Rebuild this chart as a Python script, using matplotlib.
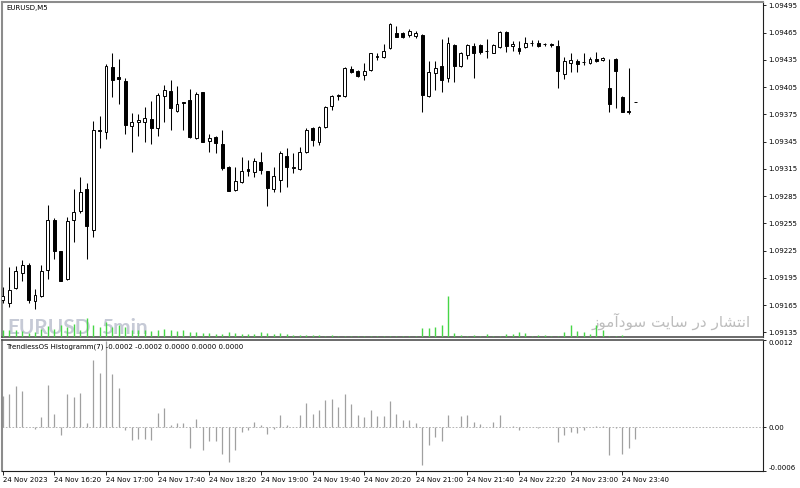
import matplotlib
matplotlib.use("Agg")
import matplotlib.pyplot as plt
import numpy as np

# EURUSD M5, 24 Nov 2023, bars from 15:40 to 23:50
opens = [1.09171, 1.09167, 1.09184, 1.09200, 1.09209, 1.09169, 1.09175, 1.09204, 1.09259, 1.09224,
         1.09194, 1.09259, 1.09268, 1.09293, 1.09248, 1.09357, 1.09355, 1.09427, 1.09416, 1.09412,
         1.09362, 1.09366, 1.09367, 1.09370, 1.09360, 1.09395, 1.09401, 1.09379, 1.09388, 1.09391,
         1.09349, 1.09399, 1.09346, 1.09350, 1.09342, 1.09317, 1.09292, 1.09300, 1.09315, 1.09311,
         1.09323, 1.09312, 1.09293, 1.09303, 1.09329, 1.09316, 1.09315, 1.09334, 1.09360, 1.09345,
         1.09361, 1.09384, 1.09395, 1.09395, 1.09425, 1.09423, 1.09418, 1.09424, 1.09438, 1.09438,
         1.09448, 1.09465, 1.09465, 1.09462, 1.09461, 1.09462, 1.09395, 1.09420, 1.09428, 1.09415,
         1.09451, 1.09428, 1.09440, 1.09450, 1.09451, 1.09445, 1.09443, 1.09449, 1.09466, 1.09450,
         1.09448, 1.09449, 1.09453, 1.09454, 1.09452, 1.09452, 1.09450, 1.09419, 1.09431, 1.09434,
         1.09432, 1.09431, 1.09436, 1.09435, 1.09404, 1.09436, 1.09394, 1.09379, 1.09388]
highs = [1.09185, 1.09207, 1.09208, 1.09215, 1.09211, 1.09183, 1.09209, 1.09275, 1.09261, 1.09225,
         1.09262, 1.09293, 1.09306, 1.09299, 1.09368, 1.09373, 1.09430, 1.09442, 1.09436, 1.09415,
         1.09376, 1.09375, 1.09383, 1.09390, 1.09398, 1.09407, 1.09413, 1.09406, 1.09389, 1.09403,
         1.09399, 1.09400, 1.09353, 1.09351, 1.09358, 1.09318, 1.09317, 1.09328, 1.09325, 1.09327,
         1.09334, 1.09313, 1.09317, 1.09335, 1.09338, 1.09332, 1.09339, 1.09360, 1.09361, 1.09362,
         1.09384, 1.09396, 1.09397, 1.09427, 1.09428, 1.09424, 1.09431, 1.09443, 1.09442, 1.09452,
         1.09475, 1.09472, 1.09466, 1.09469, 1.09467, 1.09463, 1.09434, 1.09434, 1.09458, 1.09460,
         1.09452, 1.09444, 1.09452, 1.09453, 1.09452, 1.09458, 1.09452, 1.09467, 1.09467, 1.09456,
         1.09456, 1.09460, 1.09457, 1.09457, 1.09454, 1.09454, 1.09457, 1.09438, 1.09443, 1.09436,
         1.09443, 1.09438, 1.09444, 1.09438, 1.09436, 1.09437, 1.09395, 1.09426, 1.09388]
lows = [1.09167, 1.09163, 1.09183, 1.09191, 1.09167, 1.09161, 1.09174, 1.09194, 1.09216, 1.09191,
        1.09193, 1.09234, 1.09266, 1.09216, 1.09240, 1.09338, 1.09348, 1.09394, 1.09386, 1.09353,
        1.09333, 1.09351, 1.09345, 1.09342, 1.09351, 1.09366, 1.09358, 1.09378, 1.09358, 1.09349,
        1.09348, 1.09344, 1.09333, 1.09332, 1.09314, 1.09290, 1.09291, 1.09299, 1.09307, 1.09306,
        1.09309, 1.09274, 1.09289, 1.09289, 1.09295, 1.09310, 1.09314, 1.09332, 1.09340, 1.09341,
        1.09360, 1.09380, 1.09391, 1.09394, 1.09420, 1.09416, 1.09413, 1.09423, 1.09435, 1.09437,
        1.09447, 1.09460, 1.09459, 1.09460, 1.09459, 1.09377, 1.09394, 1.09402, 1.09400, 1.09410,
        1.09410, 1.09427, 1.09436, 1.09415, 1.09441, 1.09437, 1.09442, 1.09448, 1.09444, 1.09445,
        1.09441, 1.09448, 1.09450, 1.09449, 1.09450, 1.09449, 1.09404, 1.09414, 1.09421, 1.09421,
        1.09429, 1.09430, 1.09433, 1.09434, 1.09377, 1.09382, 1.09377, 1.09375, 1.09388]
closes = [1.09175, 1.09182, 1.09202, 1.09209, 1.09171, 1.09176, 1.09202, 1.09259, 1.09224, 1.09192,
          1.09258, 1.09267, 1.09289, 1.09252, 1.09358, 1.09358, 1.09428, 1.09413, 1.09414, 1.09363,
          1.09366, 1.09369, 1.09371, 1.09360, 1.09396, 1.09402, 1.09382, 1.09386, 1.09387, 1.09350,
          1.09397, 1.09345, 1.09349, 1.09343, 1.09316, 1.09291, 1.09302, 1.09313, 1.09312, 1.09324,
          1.09314, 1.09294, 1.09307, 1.09332, 1.09317, 1.09317, 1.09333, 1.09358, 1.09347, 1.09361,
          1.09383, 1.09395, 1.09396, 1.09426, 1.09421, 1.09417, 1.09423, 1.09442, 1.09439, 1.09445,
          1.09474, 1.09460, 1.09460, 1.09467, 1.09464, 1.09396, 1.09421, 1.09426, 1.09413, 1.09453,
          1.09428, 1.09443, 1.09451, 1.09443, 1.09444, 1.09445, 1.09451, 1.09466, 1.09450, 1.09452,
          1.09445, 1.09453, 1.09453, 1.09450, 1.09452, 1.09451, 1.09423, 1.09434, 1.09435, 1.09430,
          1.09432, 1.09436, 1.09434, 1.09437, 1.09386, 1.09423, 1.09378, 1.09378, 1.09388]
# tick volumes
volumes = [40, 40, 40, 36, 24, 30, 46, 64, 46, 70, 60, 80, 44, 116, 72, 60, 90, 60, 74, 60,
           44, 44, 40, 36, 40, 50, 44, 36, 40, 30, 30, 24, 24, 20, 20, 30, 24, 16, 16, 20,
           30, 26, 20, 26, 20, 14, 14, 14, 14, 10, 6, 14, 6, 6, 6, 6, 6, 6, 6, 6,
           6, 6, 6, 8, 6, 56, 56, 60, 70, 246, 26, 10, 6, 10, 4, 16, 4, 4, 16, 16,
           32, 22, 6, 10, 10, 6, 8, 32, 70, 36, 30, 18, 74, 40, 8, 6, 10, 0, 0]
# TrendlessOS Histogramm(7)
osc = [0.000425, 0.000461, 0.000563, 0.000494, 0.00001, -0.00002, 0.000148, 0.000577, 0.000185, -0.000106,
       0.000452, 0.000415, 0.000475, 0.000055, 0.000932, 0.000748, 0.00118, 0.000738, 0.000545, -0.00004,
       -0.000175, -0.000166, -0.000166, -0.000175, 0.000194, 0.000268, 0.000037, 0.000055, 0.000055, -0.000286,
       0.000115, -0.000309, -0.000194, -0.000194, -0.000369, -0.000471, -0.000305, -0.000069, -0.000032, 0.000078,
       0.000032, -0.000092, -0.00002, 0.000175, 0.000032, 0.00001, 0.000175, 0.000337, 0.000185, 0.00024,
       0.000378, 0.000392, 0.000277, 0.000452, 0.000323, 0.000171, 0.000148, 0.000245, 0.000162, 0.000162,
       0.000355, 0.000185, 0.000106, 0.000106, 0.000055, -0.000517, -0.000245, -0.000138, -0.000185, 0.000175,
       0.00001, 0.000162, 0.000171, 0.000069, 0.000046, 0.00001, 0.000069, 0.000175, 0.00001, 0.00002,
       -0.00004, 0.00001, 0.00001, -0.00001, 0.00001, 0.00001, -0.000208, -0.000102, -0.000069, -0.000078,
       -0.00003, 0.00001, 0.00002, 0.00002, -0.000378, -0.00001, -0.000369, -0.000286, -0.00016]

price_ticks = [1.09135, 1.09165, 1.09195, 1.09225, 1.09255, 1.09285, 1.09315, 1.09345,
               1.09375, 1.09405, 1.09435, 1.09465, 1.09495]
time_ticks = [0, 8, 16, 24, 32, 40, 48, 56, 64, 72, 80, 88, 96]
time_labels = ["24 Nov 2023", "24 Nov 16:20", "24 Nov 17:00", "24 Nov 17:40", "24 Nov 18:20",
               "24 Nov 19:00", "24 Nov 19:40", "24 Nov 20:20", "24 Nov 21:00", "24 Nov 21:40",
               "24 Nov 22:20", "24 Nov 23:00", "24 Nov 23:40"]

W, H = 800, 488
fig = plt.figure(figsize=(W / 100, H / 100), dpi=100)


def rect(l, t, r, b):
    return [l / W, 1 - b / H, (r - l) / W, (b - t) / H]


x = np.arange(len(opens))
o = np.array(opens)
c = np.array(closes)
XLIM = (-0.11, 117.8)

# main price panel
ax = fig.add_axes(rect(2, 2, 763, 337))
ax.set_xlim(*XLIM)
ax.set_ylim(1.091298, 1.094986)
ax.vlines(x, lows, highs, color="black", lw=0.75, zorder=2)
ax.bar(x, np.abs(c - o), bottom=np.minimum(o, c), width=0.45,
       color=np.where(c >= o, "white", "black"), edgecolor="black", lw=0.7, zorder=3)

wm = dict(transform=ax.transAxes, fontsize=15, fontweight="bold", family=["Lato", "DejaVu Sans"],
          color="#c6cad6", va="baseline", zorder=1)
ax.text(5 / 761, 3 / 335, "EURUSD", **wm)
ax.text(99 / 761, 3 / 335, "5min", **wm)
# visual (shaped) form of "انتشار در سایت سودآموز"
persian = ("\ufeaf\ufeee\ufee3\ufe81\ufea9\ufeee\ufeb3 \ufe96\ufef3\ufe8e\ufeb3 "
           "\ufead\ufea9 \ufead\ufe8e\ufeb8\ufe98\ufee7\ufe8d")
ax.text(749 / 761, 10 / 335, persian, transform=ax.transAxes, fontsize=11,
        family="DejaVu Sans", color="#bdbdbd", ha="right", va="baseline", zorder=1)

ax.yaxis.tick_right()
ax.set_yticks(price_ticks)
ax.set_yticklabels([f"{v:.5f}" for v in price_ticks])
ax.set_xticks([])
ax.tick_params(axis="y", direction="out", length=2.5, width=0.6, pad=1.5, labelsize=5)

for s in ["left", "top"]:
    ax.spines[s].set_color("#8c8c8c")
    ax.spines[s].set_linewidth(1.5)
ax.spines["right"].set_color("#202020")
ax.spines["right"].set_linewidth(0.8)
ax.spines["bottom"].set_color("#505050")
ax.spines["bottom"].set_linewidth(1.2)

# volumes on top of the price panel
axv = fig.add_axes(rect(2, 2, 763, 337), sharex=ax)
axv.patch.set_alpha(0)
axv.vlines(x, 0, volumes, color="#46d646", lw=1.0)
axv.set_ylim(0, 2000)
axv.axis("off")

fig.text(6 / W, 1 - 8 / H, "EURUSD,M5", fontsize=5, va="center")

# oscillator panel
axo = fig.add_axes(rect(2, 340, 763, 471))
axo.set_xlim(*XLIM)
axo.set_ylim(-0.0006, 0.0012)
axo.axhline(0, color="#a8a8a8", lw=0.6, ls=(0, (2, 2)))
axo.vlines(x, 0, osc, color="#a0a0a0", lw=0.9)

axo.yaxis.tick_right()
axo.set_yticks([-0.0006, 0, 0.0012])
axo.set_yticklabels(["-0.0006", "0.00", "0.0012"])
labs = axo.get_yticklabels()
labs[0].set_va("bottom")
labs[2].set_va("top")
axo.tick_params(axis="y", direction="out", length=2.5, width=0.6, pad=1.5, labelsize=5)

axo.set_xticks(time_ticks)
axo.set_xticklabels(time_labels)
for lab in axo.get_xticklabels():
    lab.set_ha("left")
axo.tick_params(axis="x", direction="out", length=3, width=0.6, pad=1, labelsize=5)

axo.spines["left"].set_color("#8c8c8c")
axo.spines["left"].set_linewidth(1.5)
axo.spines["top"].set_color("#505050")
axo.spines["top"].set_linewidth(1.2)
for s in ["right", "bottom"]:
    axo.spines[s].set_color("#202020")
    axo.spines[s].set_linewidth(0.8)

fig.text(6 / W, 1 - 347 / H, "TrendlessOS Histogramm(7) -0.0002 -0.0002 0.0000 0.0000 0.0000",
         fontsize=5, va="center")

fig.savefig("out.png", dpi=100)
